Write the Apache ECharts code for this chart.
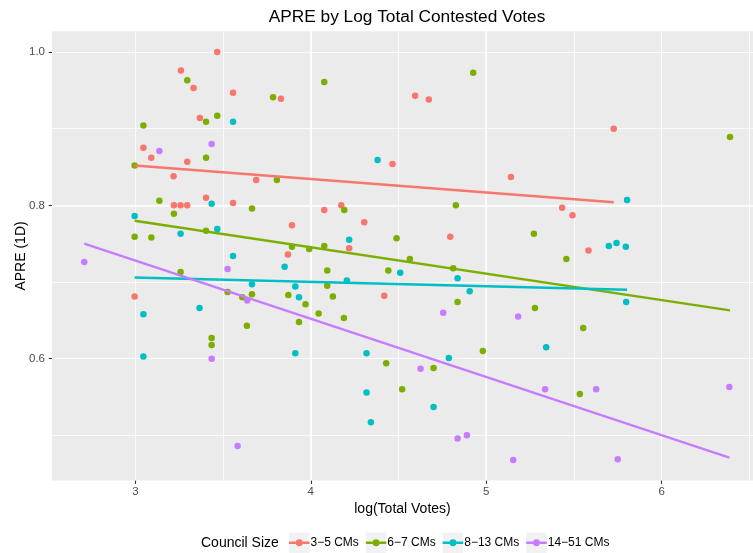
<!DOCTYPE html>
<html>
<head>
<meta charset="utf-8">
<title>APRE by Log Total Contested Votes</title>
<script src="https://cdn.jsdelivr.net/npm/echarts@6/dist/echarts.min.js"></script>
<style>
  html, body { margin: 0; padding: 0; background: #ffffff; }
  #chart { width: 753px; height: 553px; }
</style>
</head>
<body>
<div id="chart"></div>
<script>
// Council size groups, in legend order
const groupNames = ['3\u22125 CMs', '6\u22127 CMs', '8\u221213 CMs', '14\u221251 CMs'];
const groupColors = ['#F8766D', '#7CAE00', '#00BFC4', '#C77CFF'];

// [log(total votes), APRE (1D)] per council
const cms3to5 = [
  [3.467, 1.000], [3.260, 0.976], [3.332, 0.953], [3.557, 0.947], [3.830, 0.939],
  [3.368, 0.914], [3.046, 0.875], [3.091, 0.862], [3.296, 0.857], [3.218, 0.838],
  [3.689, 0.833], [3.403, 0.810], [3.220, 0.800], [3.258, 0.800], [3.296, 0.800],
  [3.557, 0.803], [3.893, 0.774], [3.870, 0.736], [4.595, 0.943], [4.673, 0.938],
  [4.466, 0.854], [5.141, 0.837], [4.077, 0.794], [4.174, 0.800], [4.305, 0.778],
  [4.795, 0.759], [4.219, 0.744], [5.727, 0.900], [5.433, 0.797], [5.492, 0.787],
  [5.583, 0.741], [2.996, 0.681], [4.419, 0.682]
];
const cms6to7 = [
  [3.296, 0.963], [3.785, 0.941], [3.403, 0.909], [3.467, 0.917], [3.046, 0.904],
  [3.403, 0.862], [2.996, 0.852], [3.807, 0.833], [3.137, 0.806], [3.665, 0.796],
  [3.220, 0.789], [3.403, 0.767], [2.996, 0.759], [3.091, 0.758], [3.893, 0.746],
  [4.077, 0.961], [4.926, 0.973], [4.191, 0.794], [4.827, 0.800], [4.489, 0.757],
  [3.991, 0.743], [4.077, 0.747], [4.565, 0.730], [6.390, 0.889], [5.272, 0.763],
  [5.457, 0.730], [3.258, 0.713], [3.526, 0.687], [3.610, 0.680], [3.665, 0.684],
  [3.636, 0.643], [3.435, 0.627], [3.435, 0.618], [3.872, 0.683], [4.812, 0.718],
  [4.094, 0.715], [4.442, 0.715], [4.094, 0.695], [4.126, 0.681], [3.970, 0.671],
  [3.933, 0.648], [4.045, 0.659], [4.189, 0.653], [4.837, 0.674], [4.981, 0.610],
  [4.430, 0.594], [4.700, 0.588], [4.521, 0.560], [5.278, 0.666], [5.553, 0.640],
  [5.534, 0.554]
];
const cms8to13 = [
  [3.557, 0.909], [3.435, 0.802], [2.996, 0.786], [3.258, 0.763], [3.467, 0.769],
  [3.557, 0.734], [4.381, 0.859], [4.219, 0.755], [5.803, 0.807], [5.699, 0.747],
  [5.743, 0.751], [5.796, 0.746], [3.851, 0.720], [3.665, 0.697], [3.046, 0.658],
  [3.366, 0.666], [3.046, 0.603], [3.912, 0.694], [3.933, 0.680], [3.912, 0.607],
  [4.206, 0.702], [4.510, 0.712], [4.837, 0.705], [4.906, 0.688], [4.318, 0.607],
  [4.787, 0.601], [4.318, 0.556], [4.343, 0.517], [4.700, 0.537], [5.798, 0.674],
  [5.342, 0.615]
];
const cms14to51 = [
  [3.137, 0.871], [3.435, 0.880], [2.709, 0.726], [3.526, 0.717], [3.638, 0.676],
  [3.435, 0.600], [3.583, 0.486], [4.755, 0.660], [5.182, 0.655], [4.626, 0.587],
  [4.837, 0.496], [4.890, 0.500], [5.154, 0.468], [5.336, 0.560], [5.627, 0.560],
  [6.386, 0.563], [5.750, 0.469]
];

// Linear fit lines per group (start and end of each fitted segment)
const fit3to5 = [[2.996, 0.852], [5.727, 0.804]];
const fit6to7 = [[2.996, 0.780], [6.390, 0.663]];
const fit8to13 = [[2.996, 0.706], [5.803, 0.690]];
const fit14to51 = [[2.709, 0.750], [6.386, 0.471]];

// Tick labels
const xTicks = [3, 4, 5, 6];
const yTicks = [0.6, 0.8, 1.0];

const groupPoints = [cms3to5, cms6to7, cms8to13, cms14to51];
const groupFits = [fit3to5, fit6to7, fit8to13, fit14to51];

const FONT = '"Liberation Sans", Arial, Helvetica, sans-serif';
const PANEL_BG = '#EBEBEB';

const scatterSeries = groupNames.map((name, i) => ({
  name: name,
  type: 'scatter',
  data: groupPoints[i],
  symbol: 'circle',
  symbolSize: 6.5,
  itemStyle: { color: groupColors[i], opacity: 1 },
  emphasis: { disabled: true },
  z: 3
}));

const fitSeries = groupNames.map((name, i) => ({
  name: name,
  type: 'line',
  data: groupFits[i],
  showSymbol: false,
  symbol: 'none',
  lineStyle: { color: groupColors[i], width: 2.5 },
  itemStyle: { color: groupColors[i] },
  emphasis: { disabled: true },
  z: 4
}));

// Legend key: coloured line with a point in the middle
const keyIcon = 'path://M0,0 L0.01,0 L0,0.01 Z M20,20 L19.99,20 L20,19.99 Z ' +
  'M0,8.8 L6.6,8.8 L6.6,11.2 L0,11.2 Z M13.4,8.8 L20,8.8 L20,11.2 L13.4,11.2 Z ' +
  'M6.6,10 A3.4,3.4 0 1 1 13.4,10 A3.4,3.4 0 1 1 6.6,10 Z';

const legendBase = {
  data: groupNames,
  orient: 'horizontal',
  left: 289,
  top: 532.5,
  padding: 0,
  itemWidth: 20.5,
  itemHeight: 20.5,
  itemGap: 7,
  selectedMode: false,
  textStyle: { fontFamily: FONT, fontSize: 12, color: '#000000', padding: [0, 0, 0, -4] }
};

const minorLine = { show: true, lineStyle: { color: '#FFFFFF', width: 0.8 }, showMinLine: false, showMaxLine: false };
const majorLine = { show: true, lineStyle: { color: '#FFFFFF', width: 1.6 }, showMinLine: false, showMaxLine: false };

const option = {
  animation: false,
  backgroundColor: '#FFFFFF',
  grid: {
    left: 52,
    right: 0,
    top: 31.3,
    bottom: 72.4,
    containLabel: false,
    outerBoundsMode: 'none',
    show: true,
    backgroundColor: PANEL_BG,
    borderWidth: 0
  },
  graphic: [
    {
      type: 'text',
      style: {
        text: 'APRE by Log Total Contested Votes',
        x: 407, y: 17,
        align: 'center', verticalAlign: 'middle',
        font: '17.3px ' + FONT,
        fill: '#000000'
      }
    },
    {
      type: 'text',
      style: {
        text: 'Council Size',
        x: 201, y: 543,
        align: 'left', verticalAlign: 'middle',
        font: '14px ' + FONT,
        fill: '#000000'
      }
    }
  ],
  legend: [
    Object.assign({}, legendBase, {
      icon: 'rect',
      itemStyle: { color: '#F2F2F2', borderWidth: 0 },
      textStyle: { fontFamily: FONT, fontSize: 12, color: 'rgba(0,0,0,0)', padding: [0, 0, 0, -4] },
      z: 1
    }),
    Object.assign({}, legendBase, {
      icon: keyIcon,
      z: 2
    })
  ],
  xAxis: [
    {
      type: 'value',
      min: 2.525,
      max: 6.521,
      splitNumber: 4,
      name: 'log(Total Votes)',
      nameLocation: 'middle',
      nameGap: 20,
      nameTextStyle: { fontFamily: FONT, fontSize: 14, color: '#000000' },
      axisLine: { show: false },
      axisTick: { show: true, length: 3.3, customValues: xTicks, lineStyle: { color: '#333333', width: 1.1 } },
      axisLabel: {
        show: true, customValues: xTicks, margin: 5,
        fontFamily: FONT, fontSize: 11.5, color: '#4D4D4D',
        formatter: v => String(v)
      },
      splitLine: majorLine,
      z: 1
    },
    {
      type: 'value',
      min: 2.525,
      max: 6.521,
      splitNumber: 8,
      position: 'top',
      axisLine: { show: false },
      axisTick: { show: false },
      axisLabel: { show: false },
      splitLine: minorLine
    }
  ],
  yAxis: [
    {
      type: 'value',
      min: 0.441,
      max: 1.027,
      splitNumber: 3,
      name: 'APRE (1D)',
      nameLocation: 'middle',
      nameGap: 24,
      nameMoveOverlap: false,
      nameRotate: 90,
      nameTextStyle: { fontFamily: FONT, fontSize: 14, color: '#000000' },
      axisLine: { show: false },
      axisTick: { show: true, length: 3.3, customValues: yTicks, lineStyle: { color: '#333333', width: 1.1 } },
      axisLabel: {
        show: true, customValues: yTicks, margin: 7,
        fontFamily: FONT, fontSize: 11.5, color: '#4D4D4D',
        formatter: v => v.toFixed(1)
      },
      splitLine: majorLine
    },
    {
      type: 'value',
      min: 0.441,
      max: 1.027,
      splitNumber: 6,
      position: 'right',
      axisLine: { show: false },
      axisTick: { show: false },
      axisLabel: { show: false },
      splitLine: minorLine
    }
  ],
  series: scatterSeries.concat(fitSeries)
};

const chart = echarts.init(document.getElementById('chart'), null, { renderer: 'canvas' });
chart.setOption(option);
</script>
</body>
</html>
